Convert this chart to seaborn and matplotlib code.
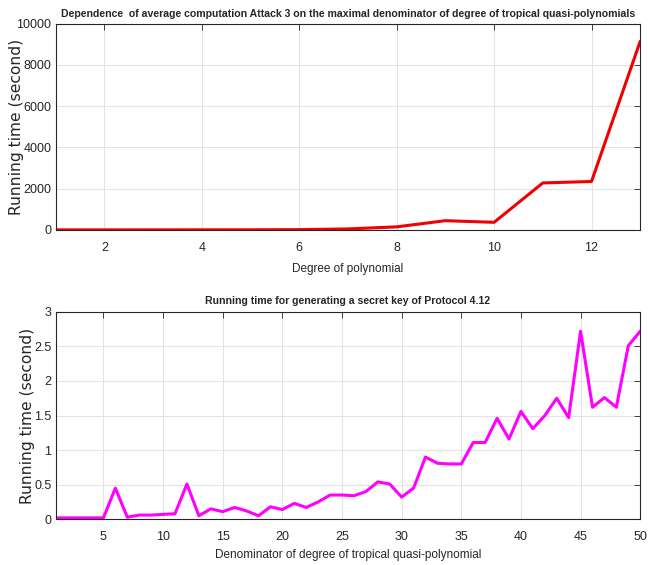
import pandas as pd
import matplotlib
matplotlib.use("Agg")
import matplotlib.pyplot as plt
import seaborn as sns

# Attack 3 timings (seconds) per polynomial degree
degree = list(range(1, 14))
attack_time = [5, 5, 6, 7, 8, 15, 50, 150, 450, 370, 2280, 2350, 9150]

# Protocol 4.12 key generation timings (seconds) per denominator
denominator = list(range(1, 51))
keygen_time = [0.02, 0.02, 0.02, 0.02, 0.02, 0.45, 0.03, 0.06, 0.06, 0.07,
               0.08, 0.51, 0.05, 0.15, 0.11, 0.17, 0.12, 0.05, 0.18, 0.14,
               0.23, 0.17, 0.25, 0.35, 0.35, 0.34, 0.40, 0.54, 0.51, 0.32,
               0.45, 0.90, 0.81, 0.80, 0.80, 1.11, 1.11, 1.46, 1.16, 1.56,
               1.31, 1.50, 1.75, 1.47, 2.72, 1.62, 1.76, 1.62, 2.51, 2.72]

top_df = pd.DataFrame({"degree": degree, "time": attack_time})
bot_df = pd.DataFrame({"den": denominator, "time": keygen_time})

sns.set_style("whitegrid")
plt.rcParams["font.family"] = ["Liberation Sans", "DejaVu Sans"]

fig = plt.figure(figsize=(6.48, 5.65), dpi=100)
ax1 = fig.add_axes([0.086, 0.593, 0.902, 0.365])
ax2 = fig.add_axes([0.086, 0.081, 0.902, 0.367])

sns.lineplot(data=top_df, x="degree", y="time", ax=ax1, color="#f00000", linewidth=2.2)
sns.lineplot(data=bot_df, x="den", y="time", ax=ax2, color="#ff00ff", linewidth=2.2)

ax1.set_xlim(1, 13)
ax1.set_ylim(0, 10000)
ax1.set_xticks([2, 4, 6, 8, 10, 12])
ax1.set_yticks([0, 2000, 4000, 6000, 8000, 10000])
ax1.set_title("Dependence  of average computation Attack 3 on the maximal denominator of degree of tropical quasi-polynomials",
              fontsize=7.6, fontweight="bold", pad=5)
ax1.set_xlabel("Degree of polynomial", fontsize=8.5, labelpad=6.5)
ax1.yaxis.set_label_coords(-0.054, 0.5)

ax2.set_xlim(1, 50)
ax2.set_ylim(0, 3)
ax2.set_xticks([5, 10, 15, 20, 25, 30, 35, 40, 45, 50])
ax2.set_yticks([0, 0.5, 1, 1.5, 2, 2.5, 3])
ax2.set_yticklabels(["0", "0.5", "1", "1.5", "2", "2.5", "3"])
ax2.set_title("Running time for generating a secret key of Protocol 4.12",
              fontsize=7.6, fontweight="bold", pad=6)
ax2.set_xlabel("Denominator of degree of tropical quasi-polynomial", fontsize=8.5, labelpad=4.5)
ax2.yaxis.set_label_coords(-0.035, 0.5)

for ax in (ax1, ax2):
    ax.set_ylabel("Running time (second)", fontsize=11.2, family=["DejaVu Sans"],
                  color="#262626")
    ax.grid(True, color="#e3e3e3", linewidth=0.8)
    for s in ax.spines.values():
        s.set_visible(True)
        s.set_color("#262626")
        s.set_linewidth(0.8)
    ax.tick_params(direction="in", length=4, width=0.6, color="#262626",
                   labelsize=9, top=True, right=True, pad=3)
    ax.tick_params(axis="x", pad=8.5)

fig.savefig("out.png", dpi=100)
